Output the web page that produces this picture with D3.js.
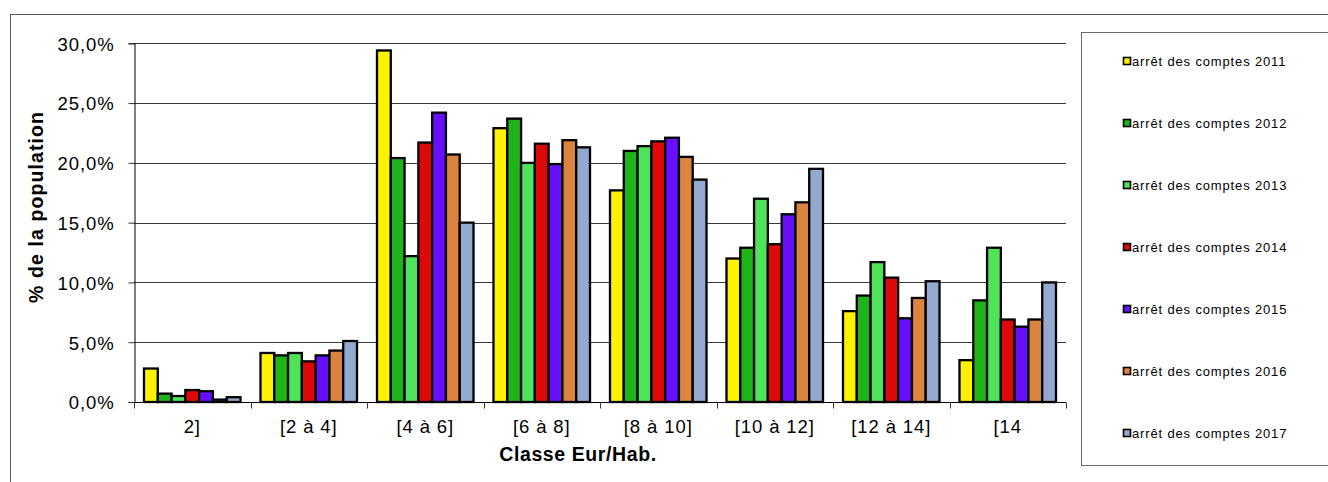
<!DOCTYPE html>
<html><head><meta charset="utf-8">
<script src="https://cdn.jsdelivr.net/npm/d3@7"></script>
<style>
body{margin:0;background:#fff;}
svg{display:block;font-family:"Liberation Sans",Arial,sans-serif;}
</style></head>
<body>
<svg id="chart" width="1328" height="482"></svg>
<script>
const categories = ["2]", "[2 à 4]", "[4 à 6]", "[6 à 8]", "[8 à 10]", "[10 à 12]", "[12 à 14]", "[14"];
const seriesNames = ["arrêt des comptes 2011","arrêt des comptes 2012","arrêt des comptes 2013","arrêt des comptes 2014","arrêt des comptes 2015","arrêt des comptes 2016","arrêt des comptes 2017"];
const s2011 = [2.8, 4.1, 29.4, 22.9, 17.7, 12.0, 7.6, 3.5];
const s2012 = [0.7, 3.9, 20.4, 23.7, 21.0, 12.9, 8.9, 8.5];
const s2013 = [0.5, 4.1, 12.2, 20.0, 21.4, 17.0, 11.7, 12.9];
const s2014 = [1.0, 3.4, 21.7, 21.6, 21.8, 13.2, 10.4, 6.9];
const s2015 = [0.9, 3.9, 24.2, 19.9, 22.1, 15.7, 7.0, 6.3];
const s2016 = [0.2, 4.3, 20.7, 21.9, 20.5, 16.7, 8.7, 6.9];
const s2017 = [0.4, 5.1, 15.0, 21.3, 18.6, 19.5, 10.1, 10.0];
const yTicks = [0, 5, 10, 15, 20, 25, 30];
const colors = ["#FFF200","#1EB41A","#4FE35A","#DD0808","#6610FF","#DB843F","#94A9CF"];
const seriesValues = [s2011, s2012, s2013, s2014, s2015, s2016, s2017];

const svg = d3.select("#chart");
const L = 134, R = 1066, T = 43.3, B = 402;

// outer border
svg.append("rect").attr("x",10.5).attr("y",14.5).attr("width",1400).attr("height",600)
  .attr("fill","none").attr("stroke","#5a5a5a").attr("stroke-width",1);

const x = d3.scaleBand().domain(categories).range([L, R]).padding(0);
const W = x.bandwidth();
const gap = W * 1.45 / 8.45 / 2;
const xs = d3.scaleBand().domain(d3.range(7)).range([gap, W - gap]).padding(0);
const y = d3.scaleLinear().domain([0, 30]).range([B, T]);

// gridlines
svg.append("g").selectAll("line").data(yTicks.filter(d => d > 0)).join("line")
  .attr("x1", L).attr("x2", R).attr("y1", d => Math.round(y(d)) + 0.5).attr("y2", d => Math.round(y(d)) + 0.5)
  .attr("stroke", "#3a3a3a").attr("stroke-width", 1);

// y axis
const yAxis = d3.axisLeft(y).tickValues(yTicks).tickSize(6).tickPadding(14)
  .tickFormat(d => d3.format(".1f")(d).replace(".", ",") + "%");
const gy = svg.append("g").attr("transform", `translate(${L + 0.5},0)`).call(yAxis);
gy.select(".domain").attr("stroke", "#000");
gy.selectAll(".tick line").attr("stroke", "#333");
gy.selectAll(".tick text").attr("font-size", 18.5).attr("letter-spacing", "0.9px")
  .attr("fill", "#000").attr("font-family", "Liberation Sans, Arial, sans-serif").attr("dy", "0.37em");

// bars
const g = svg.append("g");
seriesValues.forEach((vals, si) => {
  g.append("g").selectAll("rect").data(vals).join("rect")
    .attr("x", (d, i) => x(categories[i]) + xs(si))
    .attr("width", xs.bandwidth())
    .attr("y", d => y(d))
    .attr("height", d => B - y(d))
    .attr("fill", colors[si]).attr("stroke", "#000").attr("stroke-width", 2.3);
});

// x axis
const xAxis = d3.axisBottom(x).tickSize(0).tickPadding(0).tickFormat("");
const gx = svg.append("g").attr("transform", `translate(0,${B + 0.5})`).call(xAxis);
gx.select(".domain").attr("stroke", "#000").attr("d", `M${L},0H${R}`);
const bounds = categories.map(c => x(c)).concat([R]);
gx.selectAll(".cb").data(bounds).join("line").attr("class","cb")
  .attr("x1", d => Math.round(d) + 0.5).attr("x2", d => Math.round(d) + 0.5)
  .attr("y1", 0).attr("y2", 6).attr("stroke", "#333");
svg.append("g").selectAll("text").data(categories).join("text")
  .attr("x", d => x(d) + W / 2).attr("y", 433)
  .attr("text-anchor", "middle").attr("font-size", 18.5).attr("letter-spacing", "0.9px")
  .text(d => d);

// axis titles
svg.append("text").attr("x", 578).attr("y", 460.5).attr("text-anchor", "middle")
  .attr("font-size", 19.5).attr("font-weight", "bold").attr("letter-spacing", "0.6px")
  .text("Classe Eur/Hab.");
svg.append("text").attr("transform", "translate(43,207) rotate(-90)").attr("text-anchor", "middle")
  .attr("font-size", 19.5).attr("font-weight", "bold").attr("letter-spacing", "1.1px")
  .text("% de la population");

// legend
svg.append("rect").attr("x", 1081.5).attr("y", 32.5).attr("width", 300).attr("height", 433)
  .attr("fill", "#fff").attr("stroke", "#6a6a6a").attr("stroke-width", 1);
const ly = d3.scalePoint().domain(seriesNames).range([58, 430]);
const lg = svg.append("g").selectAll("g").data(seriesNames).join("g")
  .attr("transform", d => `translate(1123,${ly(d)})`);
lg.append("rect").attr("x", 0.5).attr("y", -0.5).attr("width", 7).attr("height", 7)
  .attr("fill", (d, i) => colors[i]).attr("stroke", "#000").attr("stroke-width", 1.6);
lg.append("text").attr("x", 9).attr("y", 8).attr("font-size", 13).attr("letter-spacing", "0.85px")
  .text(d => d);
</script>
</body></html>
